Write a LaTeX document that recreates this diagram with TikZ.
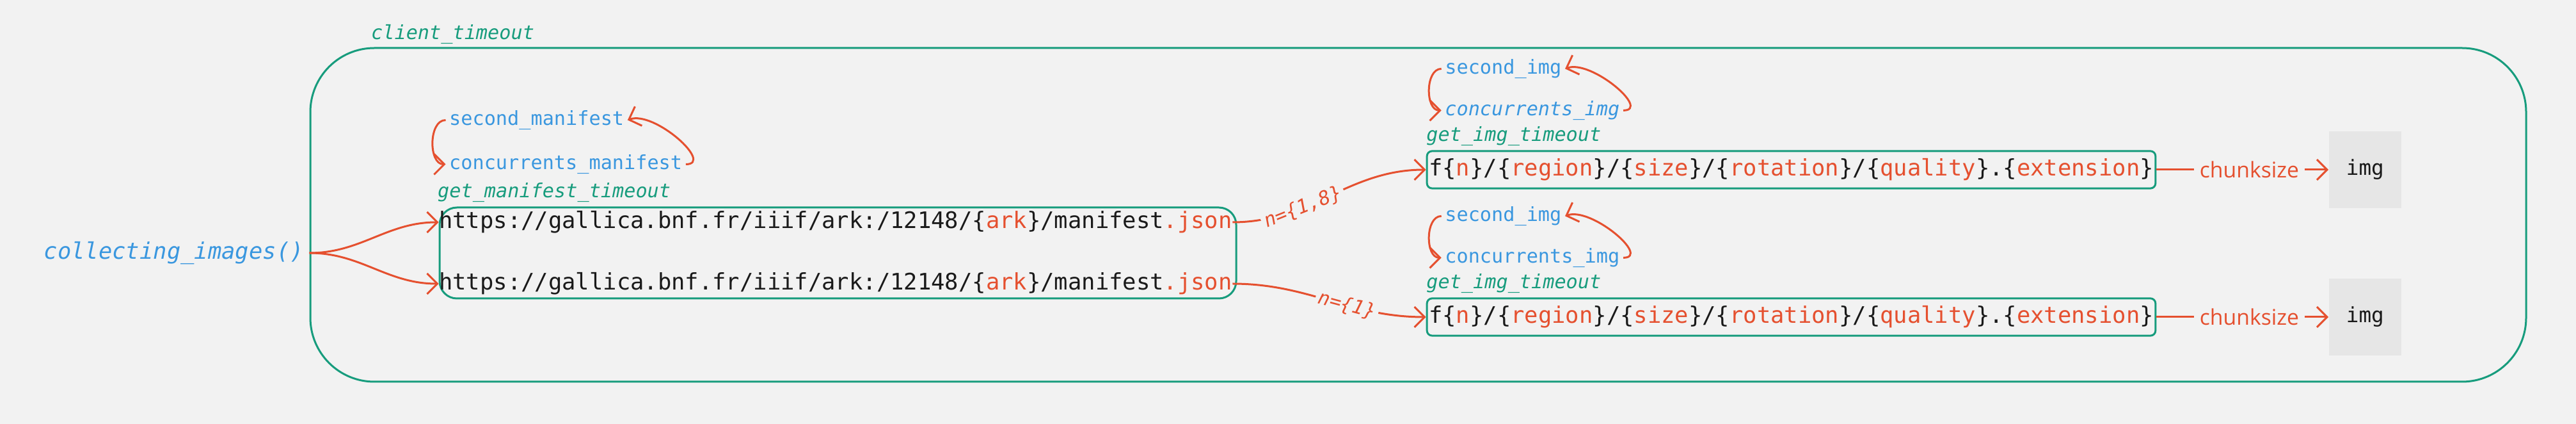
\documentclass[tikz,border=0pt]{standalone}
\usepackage{fontspec}
\usetikzlibrary{positioning,arrows.meta}
\newfontfamily\codefont{DejaVu Sans Mono}
\newfontfamily\chunkfont{Open Sans}
\definecolor{bgray}{HTML}{F2F2F2}
\definecolor{imggray}{HTML}{E6E6E6}
\definecolor{tealgreen}{HTML}{179C7D}
\definecolor{callblue}{HTML}{3A97DF}
\definecolor{linkred}{HTML}{E5502F}
\definecolor{inkblack}{HTML}{1A1A1A}
\newcommand{\pv}[1]{\textcolor{linkred}{#1}}
\newcommand{\urlfont}{\codefont\fontsize{10.1pt}{12pt}\selectfont}
\newcommand{\smallcode}{\codefont\fontsize{8.6pt}{10pt}\selectfont}
\tikzset{>={Straight Barb[length=1.6mm,width=3.2mm]}}
\tikzstyle{outerbox}=[draw=tealgreen, line width=0.03cm, rounded corners=1cm,
    minimum width=34.63cm, minimum height=5.21cm, inner sep=0pt]
\tikzstyle{manbox}=[draw=tealgreen, line width=0.03cm, rounded corners=0.27cm,
    minimum width=12.45cm, minimum height=1.42cm, inner sep=0pt]
\tikzstyle{urltext}=[font=\urlfont, text=inkblack, inner sep=0pt]
\tikzstyle{urlbox}=[draw=tealgreen, line width=0.03cm, rounded corners=0.08cm,
    font=\urlfont, text=inkblack, inner xsep=0.03cm, minimum height=0.47cm]
\tikzstyle{timeout}=[font=\smallcode\itshape, text=tealgreen, inner sep=0pt]
\tikzstyle{setting}=[font=\smallcode, text=callblue, inner xsep=0.05cm, inner ysep=0pt]
\tikzstyle{imgbox}=[fill=imggray, minimum width=1.13cm, minimum height=1.2cm,
    font=\codefont\fontsize{9.3pt}{11pt}\selectfont, text=inkblack]
\tikzstyle{flow}=[->, draw=linkred, line width=0.03cm]
\tikzstyle{nlabel}=[font=\smallcode\itshape, text=linkred, fill=bgray, sloped, inner sep=0.05cm]

\begin{document}
\begin{tikzpicture}
    \fill[bgray] (0,0) rectangle (40.26,-6.62);
    \useasboundingbox (0,0) rectangle (40.26,-6.62);
    \node (client) [outerbox] at (22.165,-3.355) {};
    \node (clienttm) [timeout, anchor=base west] at ([xshift=0.96cm,yshift=0.12cm]client.north west)
    {client\_timeout};
    \node (manifest) [manbox] at (13.095,-3.95) {};
    \node (collect) [anchor=east, font=\urlfont\itshape, text=callblue, inner sep=0.08cm]
      at (client.west |- manifest) {collecting\_images()};
    \node (man1) [urltext, anchor=west] at ([yshift=0.48cm]manifest.west)
    {https://gallica.bnf.fr/iiif/ark:/12148/\{\pv{ark}\}/manifest\pv{.json}};
    \node (man2) [urltext, anchor=west] at ([yshift=-0.48cm]manifest.west)
    {https://gallica.bnf.fr/iiif/ark:/12148/\{\pv{ark}\}/manifest\pv{.json}};
    \node (mantm) [timeout, anchor=base west] at ([xshift=-0.02cm,yshift=0.14cm]manifest.north west)
    {get\_manifest\_timeout};
    \node (secman) [setting, anchor=west] at ([xshift=0.11cm,yshift=1.35cm]manifest.north west)
    {second\_manifest};
    \node (concman) [setting, anchor=west] at ([xshift=0.11cm,yshift=0.66cm]manifest.north west)
    {concurrents\_manifest};
    \node (imgurl1) [urlbox] at (27.995,-2.65)
    {f\{\pv{n}\}/\{\pv{region}\}/\{\pv{size}\}/\{\pv{rotation}\}/\{\pv{quality}\}.\{\pv{extension}\}};
    \node (imgurl2) [urlbox] at (27.995,-4.95)
    {f\{\pv{n}\}/\{\pv{region}\}/\{\pv{size}\}/\{\pv{rotation}\}/\{\pv{quality}\}.\{\pv{extension}\}};
    \node (imgtm1) [timeout, anchor=base west] at ([yshift=0.14cm]imgurl1.north west) {get\_img\_timeout};
    \node (imgtm2) [timeout, anchor=base west] at ([yshift=0.14cm]imgurl2.north west) {get\_img\_timeout};
    \node (secimg1) [setting, anchor=west] at ([xshift=0.24cm,yshift=1.27cm]imgurl1.north west) {second\_img};
    \node (concimg1) [setting, anchor=west] at ([xshift=0.24cm,yshift=0.62cm]imgurl1.north west)
    {\itshape concurrents\_img};
    \node (secimg2) [setting, anchor=west] at ([xshift=0.24cm,yshift=1.27cm]imgurl2.north west) {second\_img};
    \node (concimg2) [setting, anchor=west] at ([xshift=0.24cm,yshift=0.62cm]imgurl2.north west)
    {concurrents\_img};
    \path (imgurl1.east)+(3.26,0) node (img1) [imgbox] {img};
    \path (imgurl2.east)+(3.26,0) node (img2) [imgbox] {img};
    \draw [flow] (collect.east) to[out=0,in=180] (man1.west);
    \draw [flow] (collect.east) to[out=0,in=180] (man2.west);
    \draw [flow] (man1.east) to[out=0,in=180] node [nlabel, pos=0.35] {n=\{1,8\}} (imgurl1.west);
    \draw [flow] (man2.east) to[out=0,in=180] node [nlabel, pos=0.6] {n=\{1\}} (imgurl2.west);
    \draw [flow] (secman.west) to[out=180,in=180] (concman.west);
    \draw [flow] (concman.east) to[out=0,in=20] (secman.east);
    \foreach \k in {1,2} {
      \draw [flow] (secimg\k.west) to[out=180,in=180] (concimg\k.west);
      \draw [flow] (concimg\k.east) to[out=0,in=20] (secimg\k.east);
      \draw [flow] (imgurl\k.east) -- node [pos=0.54, fill=bgray, text=linkred, inner sep=0.09cm,
        font=\chunkfont\fontsize{9.6pt}{11pt}\selectfont] {chunksize} (img\k.west);
    }
\end{tikzpicture}
\end{document}
